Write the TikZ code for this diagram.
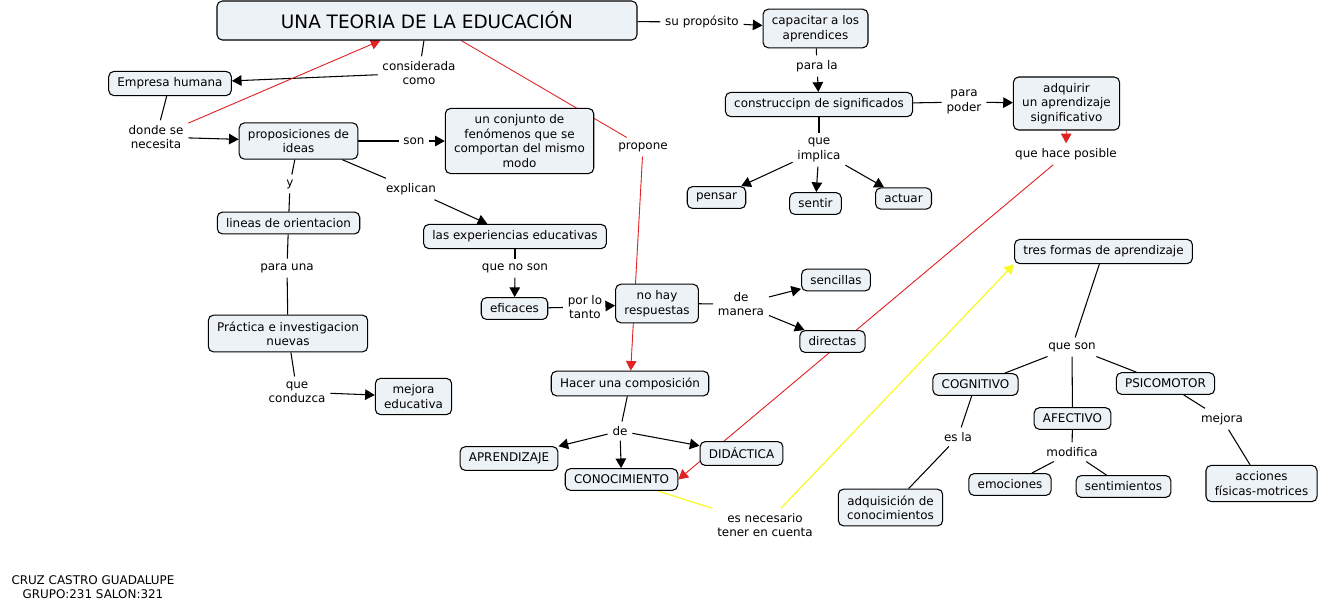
\documentclass[tikz,border=0pt]{standalone}
\usepackage{fontspec}
\setmainfont{DejaVu Sans}
\usetikzlibrary{arrows.meta}

\pgfdeclarelayer{background}
\pgfsetlayers{background,main}

\definecolor{cfill}{RGB}{236,242,245}
\definecolor{cmapred}{RGB}{225,35,35}
\definecolor{cmapyellow}{RGB}{250,250,40}

\begin{document}
\begin{tikzpicture}[
  x=0.02cm, y=-0.02cm,
  font=\fontsize{6.8}{8.2}\selectfont,
  concept/.style={draw=black, fill=cfill, rounded corners=3pt, line width=0.6pt,
    align=center, inner xsep=5pt, inner ysep=3.6pt},
  link/.style={align=center, inner sep=1.2pt, outer sep=1.6pt},
  line/.style={line width=0.6pt, draw=black},
  arrow/.style={line, -{Triangle[length=5.5pt, width=6pt]}},
  redline/.style={line width=0.5pt, draw=cmapred},
  redarrow/.style={redline, -{Triangle[length=5.5pt, width=6pt]}, fill=red},
  yellowline/.style={line width=0.7pt, draw=cmapyellow},
  yellowarrow/.style={yellowline, -{Triangle[length=5.5pt, width=6pt]}}
]
  \useasboundingbox (0,0) rectangle (1319,610);

  % concepts
  \node[concept, font=\fontsize{10.5}{12}\selectfont, minimum width=420*0.02cm, minimum height=39*0.02cm] (title) at (427,20.5) {UNA TEORIA DE LA EDUCACIÓN};
  \node[concept] (empresa) at (170,83.5) {Empresa humana};
  \node[concept] (propos) at (298.5,141) {proposiciones de\\ideas};
  \node[concept] (conjunto) at (519.5,141) {un conjunto de\\fenómenos que se\\comportan del mismo\\modo};
  \node[concept] (lineas) at (288.5,223) {lineas de orientacion};
  \node[concept] (experien) at (515,236.5) {las experiencias educativas};
  \node[concept] (eficaces) at (514.5,308.5) {eficaces};
  \node[concept] (nohay) at (657,303.5) {no hay\\respuestas};
  \node[concept] (practica) at (288,333.5) {Práctica e investigacion\\nuevas};
  \node[concept] (mejoraed) at (413.5,396.5) {mejora\\educativa};
  \node[concept] (hacer) at (630,383.5) {Hacer una composición};
  \node[concept] (aprend) at (509,458.5) {APRENDIZAJE};
  \node[concept] (conoc) at (621.5,479.5) {CONOCIMIENTO};
  \node[concept] (didac) at (741.5,453.5) {DIDÁCTICA};
  \node[concept] (sencillas) at (836,280) {sencillas};
  \node[concept] (directas) at (832.5,341.5) {directas};
  \node[concept] (capac) at (815.5,28.5) {capacitar a los\\aprendices};
  \node[concept] (construc) at (819,104.5) {construccipn de significados};
  \node[concept] (adquirir) at (1066.5,103.5) {adquirir\\un aprendizaje\\significativo};
  \node[concept] (pensar) at (716.5,197.5) {pensar};
  \node[concept] (sentir) at (815.5,203.5) {sentir};
  \node[concept] (actuar) at (903.5,198.5) {actuar};
  \node[concept] (tres) at (1103.5,251.5) {tres formas de aprendizaje};
  \node[concept] (cognitivo) at (975.5,384.5) {COGNITIVO};
  \node[concept] (afectivo) at (1072.5,418.5) {AFECTIVO};
  \node[concept] (psico) at (1165.5,383.5) {PSICOMOTOR};
  \node[concept] (adquisicion) at (890.5,507.5) {adquisición de\\conocimientos};
  \node[concept] (emociones) at (1010,484.5) {emociones};
  \node[concept] (sentim) at (1123.5,486.5) {sentimientos};
  \node[concept] (acciones) at (1261.5,483.5) {acciones\\físicas-motrices};

  % linking phrases
  \node[link] (suprop) at (702,22) {su propósito};
  \node[link] (consid) at (419,73) {considerada\\como};
  \node[link] (donde) at (156,137) {donde se\\necesita};
  \node[link] (son) at (414,141) {son};
  \node[link] (y) at (290,184) {y};
  \node[link] (explican) at (411,189) {explican};
  \node[link] (paruna) at (287,268) {para una};
  \node[link] (quenoson) at (515,268) {que no son};
  \node[link] (porlo) at (585,307) {por lo\\tanto};
  \node[link] (conduzca) at (297,392) {que\\conduzca};
  \node[link] (propone) at (643,147) {propone};
  \node[link] (demanera) at (741,304) {de\\manera};
  \node[link] (de) at (620,431) {de};
  \node[link] (necesario) at (765,525) {es necesario\\tener en cuenta};
  \node[link] (parala) at (817,66) {para la};
  \node[link] (parapoder) at (964,102) {para\\poder};
  \node[link] (implica) at (819,150) {que\\implica};
  \node[link] (haceposible) at (1066,154) {que hace posible};
  \node[link] (queson) at (1072,347) {que son};
  \node[link] (esla) at (958,437) {es la};
  \node[link] (modifica) at (1072,452) {modifica};
  \node[link] (mejora) at (1222,419) {mejora};

  \node[align=center, inner sep=0pt] (footer) at (93,587) {CRUZ CASTRO GUADALUPE\\GRUPO:231 SALON:321};

  % connectors
  \begin{pgfonlayer}{background}
    \draw[line] (title) -- (suprop);
    \draw[arrow] (suprop) -- (capac);
    \draw[line] (title) -- (consid);
    \draw[arrow] (consid) -- (empresa);
    \draw[line] (empresa) -- (donde);
    \draw[arrow] (donde) -- (propos);
    \draw[redarrow] (donde) -- (title);
    \draw[line] (propos) -- (son);
    \draw[arrow] (son) -- (conjunto);
    \draw[line] (propos) -- (y);
    \draw[line] (y) -- (lineas);
    \draw[line] (propos) -- (explican);
    \draw[arrow] (explican) -- (experien);
    \draw[line] (lineas) -- (paruna);
    \draw[line] (paruna) -- (practica);
    \draw[line] (practica) -- (conduzca);
    \draw[arrow] (conduzca) -- (mejoraed);
    \draw[line] (experien) -- (quenoson);
    \draw[arrow] (quenoson) -- (eficaces);
    \draw[line] (eficaces) -- (porlo);
    \draw[arrow] (porlo) -- (nohay);
    \draw[redline] (title) -- (propone);
    \draw[redarrow] (propone) -- (hacer);
    \draw[line] (nohay) -- (demanera);
    \draw[arrow] (demanera) -- (sencillas);
    \draw[arrow] (demanera) -- (directas);
    \draw[line] (hacer) -- (de);
    \draw[arrow] (de) -- (aprend);
    \draw[arrow] (de) -- (conoc);
    \draw[arrow] (de) -- (didac);
    \draw[line] (capac) -- (parala);
    \draw[arrow] (parala) -- (construc);
    \draw[line] (construc) -- (parapoder);
    \draw[arrow] (parapoder) -- (adquirir);
    \draw[line] (construc) -- (implica);
    \draw[arrow] (implica) -- (pensar);
    \draw[arrow] (implica) -- (sentir);
    \draw[arrow] (implica) -- (actuar);
    \draw[redarrow] (adquirir) -- (haceposible);
    \draw[redarrow] (haceposible) -- (conoc.east);
    \draw[yellowline] (conoc) -- (necesario);
    \draw[yellowarrow] (necesario) -- (tres.south west);
    \draw[line] (tres) -- (queson);
    \draw[line] (queson) -- (cognitivo);
    \draw[line] (queson) -- (afectivo);
    \draw[line] (queson) -- (psico);
    \draw[line] (cognitivo) -- (esla);
    \draw[line] (esla) -- (adquisicion);
    \draw[line] (afectivo) -- (modifica);
    \draw[line] (modifica) -- (emociones);
    \draw[line] (modifica) -- (sentim);
    \draw[line] (psico) -- (mejora);
    \draw[line] (mejora) -- (acciones);
  \end{pgfonlayer}
\end{tikzpicture}
\end{document}
